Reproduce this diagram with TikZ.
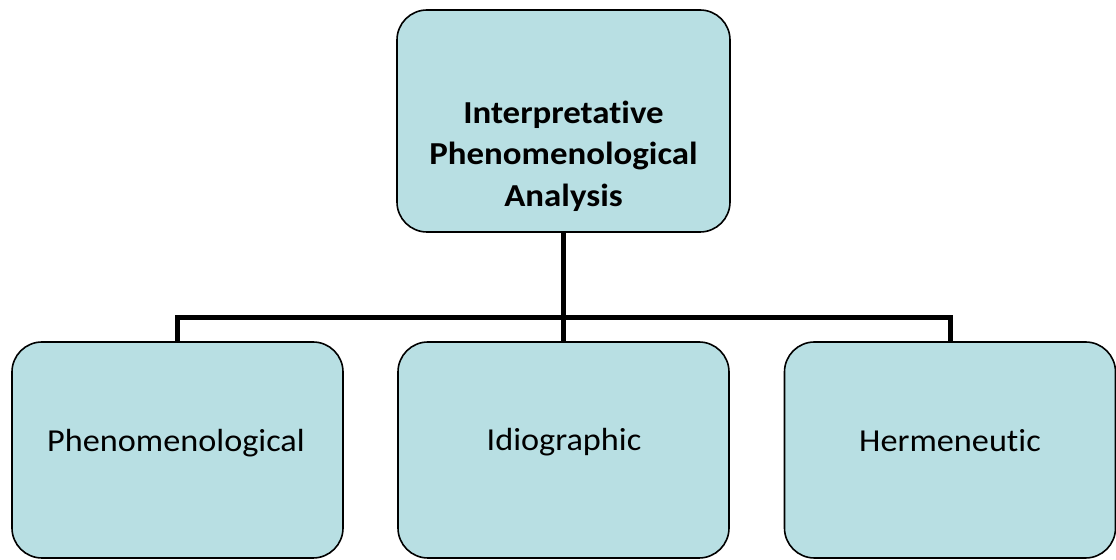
\documentclass[tikz,border=0pt]{standalone}
\usepackage{fontspec}
\setmainfont{Carlito}[Ligatures=NoCommon]
\usepackage{tikz}
\usetikzlibrary{positioning}
\definecolor{figteal}{RGB}{184,223,227}
\definecolor{figline}{RGB}{0,0,0}
\newcommand{\widetext}[1]{\scalebox{1.07}[1]{#1}}
\newcommand{\widebold}[1]{\scalebox{1.09}[1]{#1}}
\tikzset{
  stembox/.style={draw=black, rounded corners=15pt, line width=0.8pt, fill=figteal, minimum width=165.5pt, minimum height=108pt, inner sep=0pt},
  rootbox/.style={stembox, minimum width=166.5pt, minimum height=111pt},
  leaflabel/.style={font=\fontsize{16}{19}\selectfont, anchor=base, inner sep=0pt},
  rootlabel/.style={font=\fontsize{16}{20.75}\selectfont\bfseries, align=center, inner sep=0pt},
  line/.style={draw=figline, line width=2.5pt}
}

\begin{document}
\begin{tikzpicture}[x=0.5pt,y=-0.5pt]
  \useasboundingbox (0,0) rectangle (1116,560);

  \node[rootbox] (ipa) at (563.5,121) {};
  \node[rootlabel] (ipaText) at (563.5,156) {\widebold{Interpretative}\\\widebold{Phenomenological}\\\widebold{Analysis}};

  \node[stembox] (phen) at (177.5,450) {};
  \node[stembox] (idio) at (563.5,450) {};
  \node[stembox] (herm) at (950,450) {};

  \node[leaflabel] (phenText) at (176,452) {\widetext{Phenomenological}};
  \node[leaflabel] (idioText) at (564,451) {\widetext{Idiographic}};
  \node[leaflabel] (hermText) at (950,452) {\widetext{Hermeneutic}};

  \coordinate (bus) at (563.5,318);

  \draw[line] (ipa.south) -- (idio.north);
  \draw[line] (phen.north) |- (bus) -| (herm.north);
\end{tikzpicture}
\end{document}
